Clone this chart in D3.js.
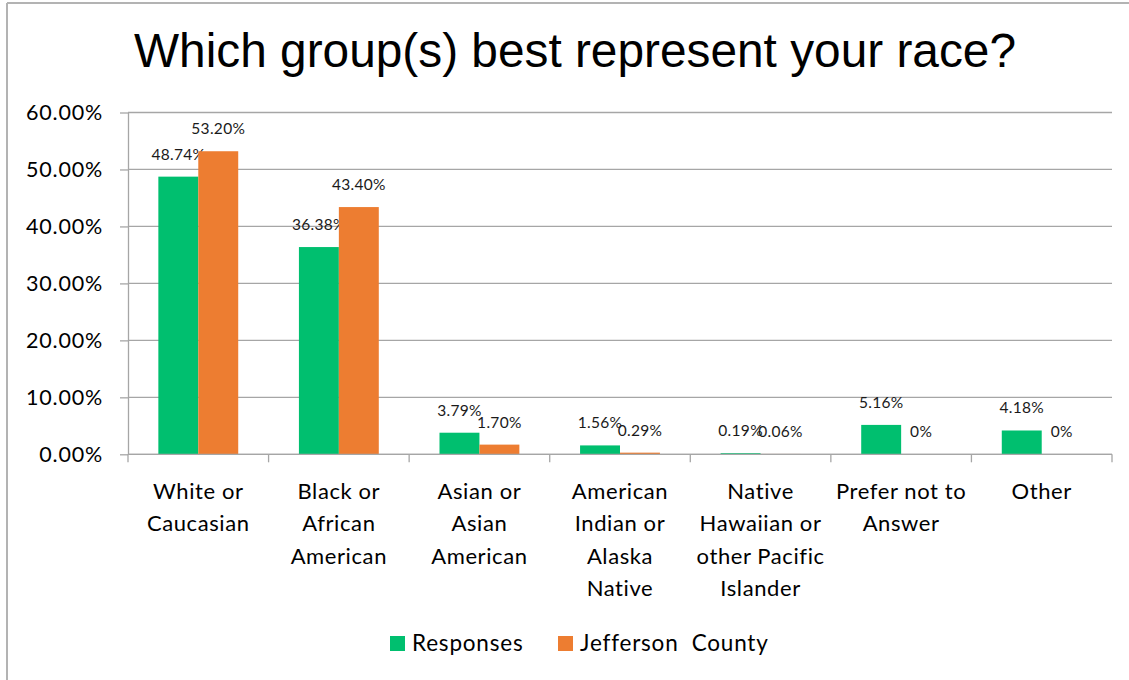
<!DOCTYPE html>
<html>
<head>
<meta charset="utf-8">
<script src="https://cdn.jsdelivr.net/npm/d3@7/dist/d3.min.js"></script>
<style>
  html, body { margin: 0; padding: 0; background: #fff; }
  svg { display: block; }
</style>
</head>
<body>
<svg id="chart" width="1129" height="680"></svg>
<script>
// Survey answers compared with county population shares
const categories = [
  "White or Caucasian",
  "Black or African American",
  "Asian or Asian American",
  "American Indian or Alaska Native",
  "Native Hawaiian or other Pacific Islander",
  "Prefer not to Answer",
  "Other"
];
// Wrapped axis label lines for each category
const categoryLines = [
  ["White or", "Caucasian"],
  ["Black or", "African", "American"],
  ["Asian or", "Asian", "American"],
  ["American", "Indian or", "Alaska", "Native"],
  ["Native", "Hawaiian or", "other Pacific", "Islander"],
  ["Prefer not to", "Answer"],
  ["Other"]
];
const seriesNames = ["Responses", "Jefferson  County"];
const responses = [0.4874, 0.3638, 0.0379, 0.0156, 0.0019, 0.0516, 0.0418];
const jefferson = [0.532, 0.434, 0.017, 0.0029, 0.0006, 0, 0];
const responseLabels = ["48.74%", "36.38%", "3.79%", "1.56%", "0.19%", "5.16%", "4.18%"];
const jeffersonLabels = ["53.20%", "43.40%", "1.70%", "0.29%", "0.06%", "0%", "0%"];
const yTicks = [0, 0.1, 0.2, 0.3, 0.4, 0.5, 0.6];
const titleText = "Which group(s) best represent your race?";

const colors = ["#00BF6F", "#ED7D31"];
const seriesValues = [responses, jefferson];
const seriesLabels = [responseLabels, jeffersonLabels];

const svg = d3.select("#chart");
const plotLeft = 128, plotRight = 1112, plotTop = 112.5, plotBottom = 454.3;
const catFont = "Lato, 'Open Sans', sans-serif";

// chart frame
svg.append("line").attr("x1", 7).attr("x2", 1129).attr("y1", 3).attr("y2", 3)
  .attr("stroke", "#b3b3b3").attr("stroke-width", 2);
svg.append("line").attr("x1", 7).attr("x2", 7).attr("y1", 3).attr("y2", 680)
  .attr("stroke", "#b3b3b3").attr("stroke-width", 2);

// title
svg.append("text")
  .attr("x", 575).attr("y", 67)
  .attr("text-anchor", "middle")
  .attr("font-family", "'Liberation Sans', Arial, sans-serif")
  .attr("font-size", 47.8)
  .attr("fill", "#000")
  .text(titleText);

const x0 = d3.scaleBand().domain(categories).range([plotLeft, plotRight]).paddingInner(0).paddingOuter(0);
const x1 = d3.scaleBand().domain(seriesNames).range([0, x0.bandwidth()]).paddingInner(0).paddingOuter(0.76);
const y = d3.scaleLinear().domain([0, 0.6]).range([plotBottom, plotTop]);

// horizontal gridlines
svg.append("g")
  .selectAll("line")
  .data(yTicks)
  .join("line")
  .attr("x1", plotLeft).attr("x2", plotRight)
  .attr("y1", d => y(d)).attr("y2", d => y(d))
  .attr("stroke", "#a6a6a6").attr("stroke-width", 1.3);

// y axis
const yAxis = svg.append("g")
  .attr("transform", `translate(${plotLeft},0)`)
  .call(d3.axisLeft(y).tickValues(yTicks).tickFormat(d3.format(".2%")).tickSize(8).tickSizeOuter(0).tickPadding(17));
yAxis.select(".domain").attr("stroke", "#a6a6a6").attr("stroke-width", 1.3);
yAxis.selectAll(".tick line").attr("stroke", "#a6a6a6").attr("stroke-width", 1.3);
yAxis.selectAll(".tick text")
  .attr("font-family", catFont).attr("font-size", 21.5)
  .attr("letter-spacing", 0.8).attr("fill", "#000");

// bars
const groups = svg.append("g")
  .selectAll("g")
  .data(seriesNames)
  .join("g")
  .attr("fill", (d, i) => colors[i]);

const rowsFor = (s, si) => categories.map((c, ci) => ({ c, s, v: seriesValues[si][ci], label: seriesLabels[si][ci] }));

groups.selectAll("rect")
  .data(rowsFor)
  .join("rect")
  .attr("x", d => x0(d.c) + x1(d.s))
  .attr("width", x1.bandwidth())
  .attr("y", d => y(d.v))
  .attr("height", d => y(0) - y(d.v));

// data labels
groups.selectAll("text")
  .data(rowsFor)
  .join("text")
  .attr("x", d => x0(d.c) + x1(d.s) + x1.bandwidth() / 2)
  .attr("y", d => y(d.v) - 17)
  .attr("text-anchor", "middle")
  .attr("font-family", catFont)
  .attr("font-size", 15.5)
  .attr("letter-spacing", 0.3)
  .attr("fill", "#1a1a1a")
  .text(d => d.label);

// x axis line and category boundary ticks
svg.append("line").attr("x1", plotLeft).attr("x2", plotRight).attr("y1", y(0)).attr("y2", y(0))
  .attr("stroke", "#a6a6a6").attr("stroke-width", 1.3);
const boundaries = categories.map(c => x0(c)).concat([x0(categories[categories.length - 1]) + x0.bandwidth()]);
svg.append("g")
  .selectAll("line")
  .data(boundaries)
  .join("line")
  .attr("x1", d => d).attr("x2", d => d)
  .attr("y1", y(0)).attr("y2", y(0) + 8)
  .attr("stroke", "#a6a6a6").attr("stroke-width", 1.3);

// category labels
const catLabels = svg.append("g")
  .selectAll("text")
  .data(categories)
  .join("text")
  .attr("x", d => x0(d) + x0.bandwidth() / 2)
  .attr("y", 499)
  .attr("text-anchor", "middle")
  .attr("font-family", catFont)
  .attr("font-size", 22)
  .attr("letter-spacing", 0.6)
  .attr("fill", "#000");
catLabels.each(function(d, i) {
  d3.select(this).selectAll("tspan")
    .data(categoryLines[i])
    .join("tspan")
    .attr("x", x0(d) + x0.bandwidth() / 2)
    .attr("dy", (t, j) => j === 0 ? 0 : 32.4)
    .text(t => t);
});

// legend
const legendX = [390, 558];
const legend = svg.append("g")
  .selectAll("g")
  .data(seriesNames)
  .join("g")
  .attr("transform", (d, i) => `translate(${legendX[i]},636)`);
legend.append("rect").attr("width", 15).attr("height", 15).attr("fill", (d, i) => colors[i]);
legend.append("text")
  .attr("x", 22).attr("y", 15)
  .attr("font-family", catFont)
  .attr("font-size", 22.5)
  .attr("letter-spacing", 0.8)
  .attr("fill", "#000")
  .style("white-space", "pre")
  .attr("xml:space", "preserve")
  .text(d => d);
</script>
</body>
</html>
